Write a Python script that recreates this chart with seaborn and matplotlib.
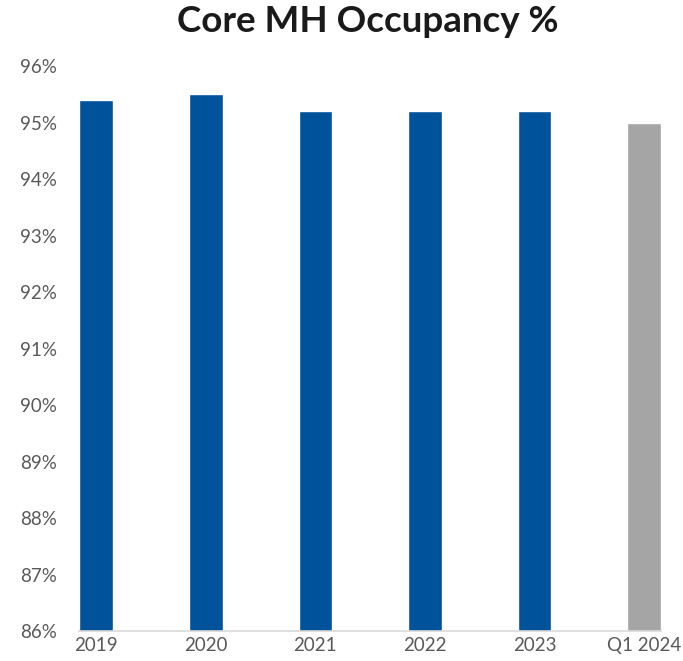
import matplotlib
matplotlib.use("Agg")
import matplotlib.pyplot as plt
import seaborn as sns
import pandas as pd
from matplotlib.ticker import FuncFormatter

categories = ["2019", "2020", "2021", "2022", "2023", "Q1 2024"]
occupancy = [95.4, 95.5, 95.2, 95.2, 95.2, 95.0]
bar_colors = ["#00529B", "#00529B", "#00529B", "#00529B", "#00529B", "#A5A5A5"]

sns.set_style("white")
plt.rcParams["font.family"] = ["Lato", "DejaVu Sans"]

df = pd.DataFrame({"period": categories, "occ": occupancy})

fig = plt.figure(figsize=(6.83, 6.61), dpi=100)
ax = fig.add_axes([0.116, 0.045, 0.852, 0.855])
w = 0.307
sns.barplot(data=df, x="period", y="occ", hue="period", palette=bar_colors,
            width=w, legend=False, ax=ax, saturation=1)

ax.set_ylim(86, 96)
ax.set_yticks(range(86, 97))
ax.yaxis.set_major_formatter(FuncFormatter(lambda v, p: f"{v:.0f}%"))
ax.set_xlim(-w / 2, len(categories) - 1 + w / 2)
ax.set_xlabel("")
ax.set_ylabel("")
for s in ["top", "right", "left"]:
    ax.spines[s].set_visible(False)
ax.spines["bottom"].set_color("#D9D9D9")
ax.spines["bottom"].set_linewidth(1.2)
ax.tick_params(axis="both", length=0, labelsize=13.5, colors="#595959", pad=4)
ax.tick_params(axis="y", pad=16)

fig.suptitle("Core MH Occupancy %", fontsize=26.5, fontweight="bold",
             color="#1A1A1A", x=0.538, y=0.992)

plt.savefig("out.png", dpi=100)
